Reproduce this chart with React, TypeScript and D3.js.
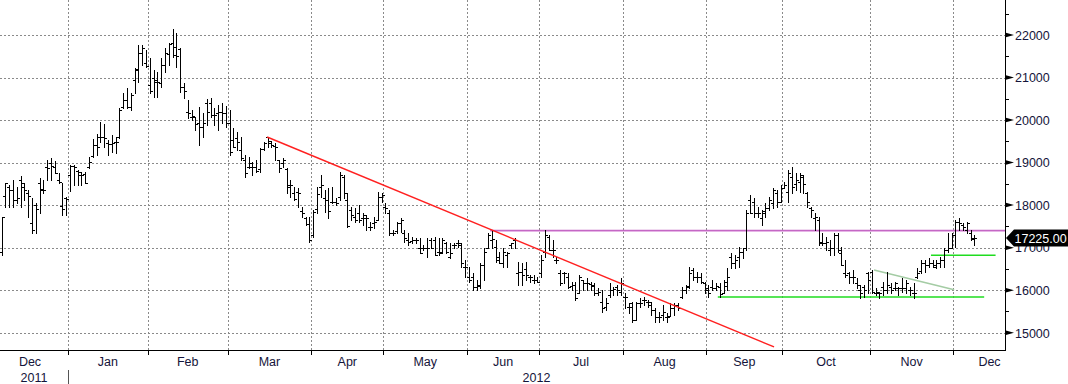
import React from "react";
import * as d3 from "d3";

// ---------- data (LME-style daily OHLC, Dec 2011 - Dec 2012) ----------
const holidays = [
  "2011-12-26", "2011-12-27", "2012-01-02", "2012-04-06", "2012-04-09",
  "2012-05-07", "2012-06-04", "2012-06-05", "2012-08-27", "2012-12-25", "2012-12-26",
];
const firstBarDate = "2011-12-05";

const openP = [
  16900,18215,18434,18356,18121,18591,18434,18278,17570,18000,18513,18380,18905,18983,18905,18590,17980,18160,
  18709,18928,18811,18709,18732,18900,19150,19420,19610,19590,19460,19430,19490,19610,20300,20470,20300,20942,21200,21570,21334,
  20824,20980,20900,20860,21300,21550,21804,21726,21680,20786,20197,20080,20080,19923,19845,20393,20393,20120,20158,20197,20158,
  19923,19531,19570,19296,19061,18900,18905,18900,18850,19310,19590,19453,19390,19061,19000,18850,18474,18278,18300,17870,17690,17560,
  17298,17900,18434,18160,18121,18080,18080,18200,18650,18121,17886,17729,17807,17700,17690,17494,17580,17651,18199,
  17964,17807,17350,17400,17572,17337,17180,17150,17180,16985,16985,16985,17180,17180,16900,16900,17102,16790,17063,17100,17063,16553,
  16318,16318,16083,16122,16600,16985,17180,17024,16788,16632,16828,17063,17180,16397,16436,16500,16318,16240,16240,
  16397,16906,17259,16945,16710,16397,16397,16318,16100,16122,15926,16240,16180,16150,16100,15926,15730,15610,15887,16000,16083,15960,
  15848,15613,15700,15300,15691,15770,15730,15650,15534,15378,15417,15378,15400,15573,15650,15848,16005,16100,16475,16318,16318,16161,
  16044,16083,16044,16083,15926,16100,16788,16630,16788,16900,16985,18121,18082,17807,17700,17850,17925,18043,18278,18082,
  18395,18300,18670,18500,18550,18670,18278,17925,17690,17651,17141,17100,16945,16985,17298,16867,16397,16397,16318,16161,16005,16083,
  16397,16436,15926,15926,16083,16005,16083,16044,16044,16044,16044,16005,15926,16300,16450,16632,16600,16632,16553,16632,16710,16945,17000,
  17300,17612,17533,17415,17337,17200,
];
const highP = [
  17729,18530,18474,18591,18434,18690,18513,18356,18160,18043,18630,18591,19061,19100,19040,18748,18513,18199,
  18944,18944,18826,18787,18787,19140,19547,19665,19947,19907,19531,19650,19610,20276,20628,20746,20628,21216,21765,21765,21647,
  21451,21177,21140,21451,21690,21804,22133,22039,21686,20864,20472,20237,20080,20300,20158,20488,20510,20276,20354,20393,20330,
  20237,19806,19727,19610,19179,19140,19022,19061,19335,19492,19610,19500,19453,19061,19100,18866,18591,18434,18395,17964,17729,17729,
  17886,18434,18709,18356,18395,18434,18160,18787,18709,18278,17964,17925,18003,17807,17768,17612,17729,18317,18278,
  18043,17886,17415,17612,17690,17415,17337,17259,17220,17220,17063,17220,17220,17259,17220,17220,17141,17102,17102,17180,17102,16710,
  16553,16397,16240,16632,16985,17337,17415,17180,16906,16985,16906,17102,17220,16670,16632,16670,16358,16358,16318,
  16828,17415,17298,17180,16788,16475,16436,16397,16200,16200,16358,16240,16280,16200,16161,16044,16005,15810,16161,16083,16122,16280,
  15926,15691,15730,15730,15810,15848,15770,15730,15573,15495,15652,15456,15691,15691,15691,16083,16122,16553,16514,16436,16397,16200,
  16122,16240,16161,16161,16240,16514,16867,16828,17024,16985,17886,18238,18160,17964,17886,18043,18199,18395,18356,18474,
  18552,18826,18905,18748,18748,18709,18317,17964,17807,17729,17337,17259,17180,17337,17337,17024,16710,16436,16475,16280,16122,16122,
  16436,16475,16044,15966,16200,16436,16161,16200,16083,16280,16240,16083,16161,16514,16710,16710,16750,16710,16710,16788,16985,17337,17337,
  17651,17690,17572,17612,17415,17298,
];
const lowP = [
  16830,17964,17964,17950,18043,17964,18121,17729,17337,17337,17807,18278,18591,18591,18748,18513,17760,17770,
  18340,18474,18474,18474,18513,18866,19140,19170,19492,19375,19180,19257,19218,19570,20276,20276,20237,20629,20900,21295,21255,
  20629,20550,20550,20786,21120,21295,21491,21255,20670,20510,20040,20002,19766,19414,19610,19884,20080,19884,19766,19923,19845,
  19179,19375,19296,19061,18670,18866,18709,18787,18787,19300,19375,19375,19061,18787,18905,18278,18199,18121,17964,17729,17533,17141,
  17259,17807,18199,17847,17690,18043,18000,18121,18160,17494,17651,17612,17612,17533,17415,17415,17455,17651,18082,
  17807,17298,17298,17337,17376,17141,17063,17102,17102,16867,16945,16788,16985,16828,16828,16867,16867,16750,16985,17024,16553,16318,
  16200,16005,16005,16044,16240,16985,16985,16670,16632,16553,16553,16985,16985,16122,16122,16240,16200,16161,16200,
  16318,16788,16945,16788,16632,16122,16161,16044,16005,15770,15926,16005,16005,16005,15887,15887,15495,15534,15848,15887,15887,15887,
  15573,15456,15260,15300,15613,15653,15613,15417,15260,15260,15300,15260,15400,15417,15534,15810,15926,16044,16240,16200,16161,15926,
  15848,16005,16005,15848,15926,16005,16514,16514,16553,16750,16945,17807,17729,17729,17533,17729,17886,17925,17964,18082,
  18395,18082,18278,18356,18317,18278,17964,17729,17415,17063,17063,16945,16828,16828,16906,16592,16318,16161,16161,16044,15810,15848,
  15926,15926,15887,15810,15887,15926,15926,16005,15887,15966,15926,15887,15810,16280,16397,16436,16553,16553,16514,16553,16553,16906,17000,
  17024,17415,17415,17337,17180,17063,
];
const closeP = [
  17720,18513,18356,18121,18160,18513,18356,18220,17415,17900,18356,18356,18870,18930,18748,18550,17900,18145,
  18928,18905,18787,18709,18521,19010,19420,19370,19610,19580,19430,19450,19490,20237,20472,20315,20590,21177,21570,21686,21280,
  20690,20940,20900,21295,21570,21780,21530,21506,20786,20690,20158,20096,19907,19845,19923,20197,20120,20120,20197,20158,19923,
  19257,19375,19492,19100,18748,19000,18905,18800,19310,19453,19500,19414,19375,18866,19061,18434,18474,18135,18290,17807,17560,17180,
  17847,18250,18474,18121,17870,18080,18050,18700,18278,17510,17760,17651,17651,17768,17690,17494,17612,18199,18240,
  17925,17337,17350,17572,17651,17220,17141,17180,17180,16880,17000,16985,16985,16828,16867,17180,16890,16867,17063,17120,16650,16553,
  16240,16083,16100,16590,16900,17300,17200,16710,16632,16900,16867,17102,17180,16436,16358,16358,16318,16240,16200,
  16710,17300,16945,16945,16710,16161,16397,16083,16122,15810,16318,16161,16180,16130,15926,15960,15573,15691,16005,16020,16005,16161,
  15848,15613,15299,15691,15700,15770,15730,15534,15378,15378,15495,15378,15573,15650,15573,16005,16083,16397,16318,16318,16200,16005,
  15926,16044,16100,15900,16200,16318,16630,16710,16906,16985,17807,17807,17807,17807,17807,17925,18121,18356,18082,18395,
  18474,18748,18434,18600,18709,18500,18082,17886,17729,17102,17102,17141,16985,17298,16945,16592,16358,16318,16318,16122,15926,16005,
  16240,15960,15966,15926,16005,16122,16005,16161,16044,16044,16161,16005,15926,16397,16632,16592,16632,16592,16632,16710,16945,16985,17300,
  17612,17572,17494,17572,17220,17225,
];

const yTickValues = [15000, 16000, 17000, 18000, 19000, 20000, 21000, 22000];
const yMinorValues = [15500, 16500, 17500, 18500, 19500, 20500, 21500, 22500];
const lastPrice = 17225;
const monthNames = ["Jan", "Feb", "Mar", "Apr", "May", "Jun", "Jul", "Aug", "Sep", "Oct", "Nov", "Dec"];

// annotation lines: [bar index, value]
const redTrend = [[69.9, 19602], [203.3, 14665]];
const paleGreenTrend = [[229.6, 16475], [250.7, 16012]];
const magentaLevel = [128.6, 17408];
const greenLevels = [[188.5, 258.6, 15840], [244.6, 261.6, 16821]];

export default function App() {
  const fmt = d3.timeFormat("%Y-%m-%d");
  const calendar = d3
    .timeDay.range(new Date(2011, 11, 1), new Date(2013, 0, 1))
    .filter((d) => d.getDay() !== 0 && d.getDay() !== 6 && !holidays.includes(fmt(d)));
  const start = calendar.findIndex((d) => fmt(d) === firstBarDate);
  const n = closeP.length;
  const step = 3.8;
  const plotR = 1005;
  const plotB = 350;

  const x = d3.scaleLinear().domain([start, start + n - 1]).range([1.5, 1.5 + step * (n - 1)]);
  const xb = (i: number) => x(start + i);
  const y = d3.scaleLinear().domain([15000, 22000]).range([332.7, 35]);

  // month groups over calendar
  const groups = d3.groups(
    calendar.map((d, i) => ({ d, i })),
    (o) => o.d.getFullYear() * 100 + o.d.getMonth()
  );
  const months = groups.map(([key, arr]) => {
    const first = arr[0].i;
    const last = arr[arr.length - 1].i;
    return {
      key,
      year: Math.floor(key / 100),
      month: key % 100,
      boundary: x(first) - step / 2,
      mid: (x(first) - step / 2 + x(last) + step / 2) / 2,
    };
  });
  const yearBoundary = months.find((m) => m.year === 2012 && m.month === 0)!.boundary;

  // bars path
  let barPath = "";
  for (let i = 0; i < n; i++) {
    const cx = Math.round(xb(i)) + 0.5;
    const yo = Math.round(y(openP[i])) + 0.5;
    const yc = Math.round(y(closeP[i])) + 0.5;
    const yh = Math.round(y(highP[i]));
    const yl = Math.round(y(lowP[i])) + 1;
    barPath += `M${cx},${yh}V${yl}M${cx - 2.5},${yo}H${cx}M${cx},${yc}H${cx + 2.5}`;
  }

  const gridColor = "#8a8a8a";
  const labelColor = "#14143a";
  const font = "'Liberation Sans', Arial, sans-serif";
  const yLast = y(lastPrice);

  return (
    <svg
      width={1068}
      height={384}
      style={{ position: "absolute", left: 0, top: 0, background: "#fff" }}
      fontFamily={font}
    >
      <defs>
        <clipPath id="plot">
          <rect x={0} y={0} width={plotR} height={plotB} />
        </clipPath>
      </defs>
      <rect x={0} y={0} width={1068} height={384} fill="#fff" />

      {/* grid */}
      <g stroke={gridColor} strokeWidth={1} strokeDasharray="2,2" shapeRendering="crispEdges">
        {yTickValues.map((v) => (
          <line key={"h" + v} x1={0} x2={plotR} y1={Math.round(y(v)) + 0.5} y2={Math.round(y(v)) + 0.5} />
        ))}
        {months
          .filter((m) => m.boundary > 0 && m.boundary < plotR)
          .map((m) => (
            <line key={"v" + m.key} x1={Math.round(m.boundary) + 0.5} x2={Math.round(m.boundary) + 0.5} y1={0} y2={plotB} />
          ))}
      </g>

      <g clipPath="url(#plot)">
        {/* annotation lines */}
        <line
          x1={xb(magentaLevel[0])}
          x2={plotR}
          y1={y(magentaLevel[1]) + 1}
          y2={y(magentaLevel[1]) + 1}
          stroke="#e6b4e6"
          strokeWidth={1.2}
        />
        <line
          x1={xb(magentaLevel[0])}
          x2={plotR}
          y1={y(magentaLevel[1])}
          y2={y(magentaLevel[1])}
          stroke="#c468c4"
          strokeWidth={1.2}
        />
        {greenLevels.map((g, k) => (
          <line key={"g" + k} x1={xb(g[0])} x2={xb(g[1])} y1={y(g[2])} y2={y(g[2])} stroke="#1fdc1f" strokeWidth={1.5} />
        ))}
        <line
          x1={xb(paleGreenTrend[0][0])}
          y1={y(paleGreenTrend[0][1])}
          x2={xb(paleGreenTrend[1][0])}
          y2={y(paleGreenTrend[1][1])}
          stroke="#a4cca4"
          strokeWidth={1.5}
        />
        <path d={barPath} stroke="#000" strokeWidth={1} fill="none" shapeRendering="crispEdges" />
        <line
          x1={xb(redTrend[0][0])}
          y1={y(redTrend[0][1])}
          x2={xb(redTrend[1][0])}
          y2={y(redTrend[1][1])}
          stroke="#ff2020"
          strokeWidth={1.4}
        />
      </g>

      {/* axes */}
      <g stroke="#000" shapeRendering="crispEdges">
        <line x1={plotR + 0.5} x2={plotR + 0.5} y1={0} y2={plotB + 1} />
        <line x1={0} x2={plotR + 1} y1={plotB + 0.5} y2={plotB + 0.5} />
        {yMinorValues.map((v) => (
          <line key={"m" + v} x1={plotR} x2={plotR + 4} y1={Math.round(y(v)) + 0.5} y2={Math.round(y(v)) + 0.5} />
        ))}
        {months
          .filter((m) => m.boundary > 0 && m.boundary < plotR)
          .map((m) => (
            <line key={"t" + m.key} x1={Math.round(m.boundary) + 0.5} x2={Math.round(m.boundary) + 0.5} y1={plotB} y2={plotB + 5} />
          ))}
      </g>
      <line
        x1={Math.round(yearBoundary) + 0.5}
        x2={Math.round(yearBoundary) + 0.5}
        y1={370}
        y2={384}
        stroke="#555"
        shapeRendering="crispEdges"
      />
      {yTickValues.map((v) => (
        <g key={"yl" + v}>
          <polygon points={`${plotR},${y(v) - 2.5} ${plotR + 9},${y(v)} ${plotR},${y(v) + 2.5}`} fill="#000" />
          <text x={plotR + 10} y={y(v) + 4.8} fontSize={12.5} fill={labelColor}>
            {v}
          </text>
        </g>
      ))}

      {/* last price callout */}
      <polygon
        points={`${plotR + 1},${yLast} ${plotR + 9},${yLast - 8.5} 1068,${yLast - 8.5} 1068,${yLast + 8.5} ${plotR + 9},${yLast + 8.5}`}
        fill="#000"
      />
      <text x={plotR + 9.5} y={yLast + 4.8} fontSize={12.5} fill="#fff">
        {lastPrice.toFixed(2)}
      </text>

      {/* month labels */}
      {months.map((m) => (
        <text key={"ml" + m.key} x={m.mid} y={366} fontSize={12.5} textAnchor="middle" fill={labelColor}>
          {monthNames[m.month]}
        </text>
      ))}
      <text x={yearBoundary / 2} y={382} fontSize={12.5} textAnchor="middle" fill={labelColor}>
        2011
      </text>
      <text x={(yearBoundary + plotR) / 2} y={382} fontSize={12.5} textAnchor="middle" fill={labelColor}>
        2012
      </text>
    </svg>
  );
}
